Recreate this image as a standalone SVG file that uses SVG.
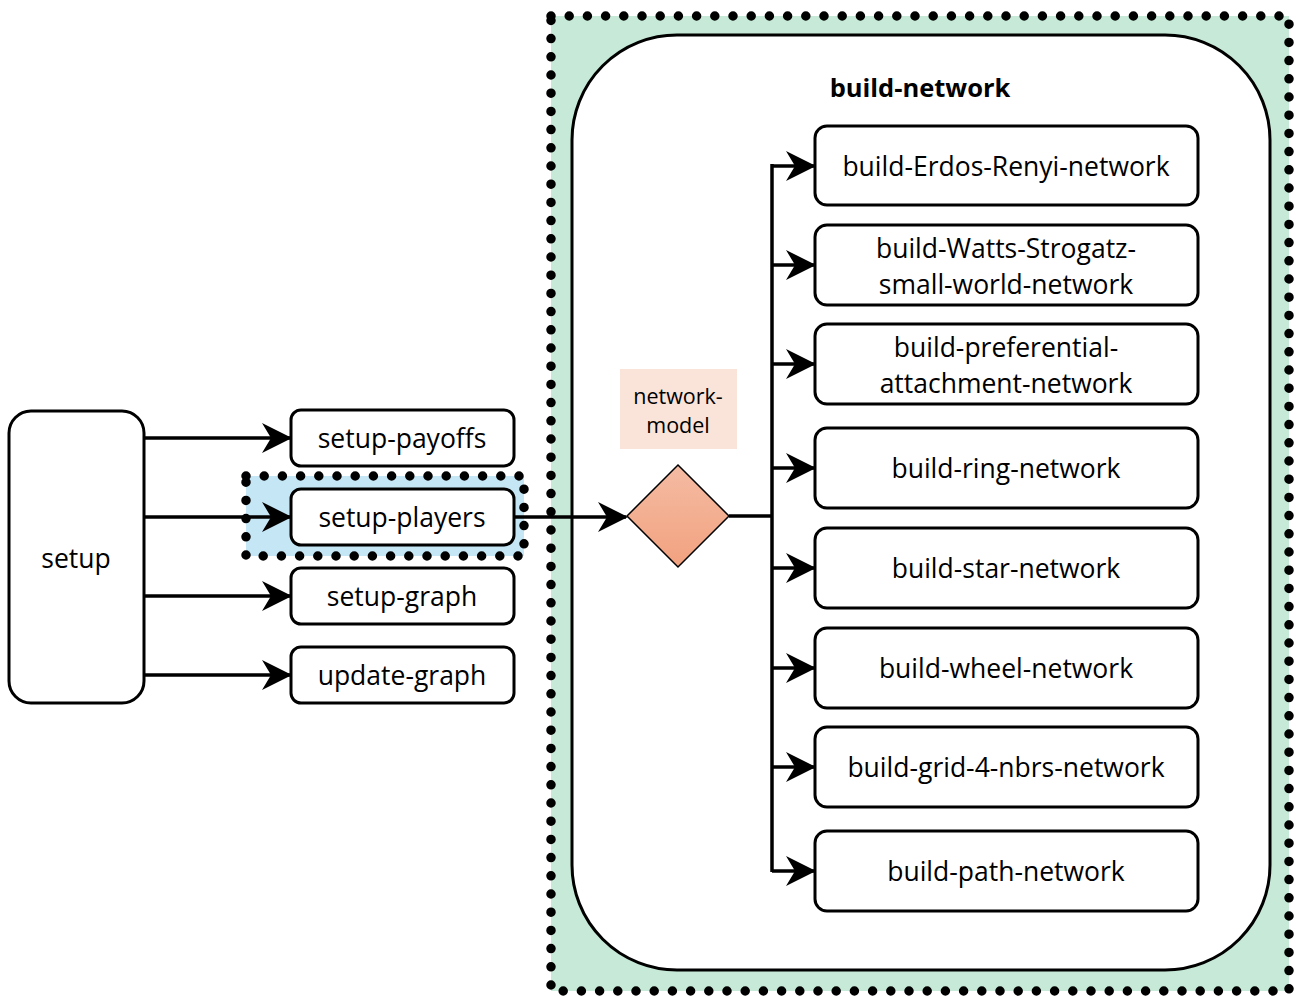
<svg xmlns="http://www.w3.org/2000/svg" width="1298" height="996" viewBox="0 0 1298 996">
<defs>
<linearGradient id="dg" x1="0" y1="0" x2="0" y2="1"><stop offset="0" stop-color="#f4bba3"/><stop offset="1" stop-color="#f2a27f"/></linearGradient>
<marker id="ah" viewBox="0 0 30 30" refX="28" refY="15" markerWidth="30" markerHeight="30" markerUnits="userSpaceOnUse" orient="auto"><path d="M0,0 L30,15 L0,30 L9,15 Z" fill="#000"/></marker>
<style>
.box{fill:#fff;stroke:#000;stroke-width:3}
.t{font-family:"Open Sans","DejaVu Sans",sans-serif;font-size:26.5px;fill:#000;text-anchor:middle;dominant-baseline:central}
.dot{fill:none;stroke:#000;stroke-width:9.5;stroke-linecap:round;stroke-dasharray:0 18.2}
.c{fill:none;stroke:#000;stroke-width:3.5}
</style>
</defs>
<g id="build-network-group">
<rect x="551" y="16" width="738" height="975" fill="#c6ead7"/>
<rect x="551" y="16" width="738" height="975" class="dot"/>
<rect x="572" y="35" width="698" height="935" rx="105" class="box"/>
<text x="920" y="87" class="t" style="font-weight:bold;font-size:25.5px">build-network</text>
</g>
<g id="players-group">
<rect x="246" y="476" width="278" height="80" fill="#c5e6f5"/>
<rect x="246" y="476" width="278" height="80" class="dot"/>
</g>
<g id="setup"><rect x="9" y="411" width="135" height="292" rx="22" class="box"/><text x="76" y="558" class="t">setup</text></g>
<g id="setup-payoffs"><rect x="291" y="410" width="223" height="56" rx="10" class="box"/><text x="402" y="438" class="t">setup-payoffs</text></g>
<g id="setup-players"><rect x="291" y="489" width="223" height="56" rx="10" class="box"/><text x="402" y="517" class="t">setup-players</text></g>
<g id="setup-graph"><rect x="291" y="568" width="223" height="56" rx="10" class="box"/><text x="402" y="596" class="t">setup-graph</text></g>
<g id="update-graph"><rect x="291" y="647" width="223" height="56" rx="10" class="box"/><text x="402" y="675" class="t">update-graph</text></g>
<g id="network-model-label"><rect x="620" y="369" width="117" height="80" fill="#fae3d9"/><text x="678" y="395" class="t" style="font-size:21.5px">network-</text><text x="678" y="424" class="t" style="font-size:21.5px">model</text></g>
<g id="decision"><polygon points="678,465 729,516 678,567 627,516" fill="url(#dg)" stroke="#000" stroke-width="1.5"/></g>
<g id="b1"><rect x="815" y="126" width="383" height="79" rx="12" class="box"/><text x="1006" y="166" class="t">build-Erdos-Renyi-network</text></g>
<g id="b2"><rect x="815" y="225" width="383" height="80" rx="12" class="box"/><text x="1006" y="248" class="t">build-Watts-Strogatz-</text><text x="1006" y="284" class="t">small-world-network</text></g>
<g id="b3"><rect x="815" y="324" width="383" height="80" rx="12" class="box"/><text x="1006" y="347" class="t">build-preferential-</text><text x="1006" y="383" class="t">attachment-network</text></g>
<g id="b4"><rect x="815" y="428" width="383" height="80" rx="12" class="box"/><text x="1006" y="468" class="t">build-ring-network</text></g>
<g id="b5"><rect x="815" y="528" width="383" height="80" rx="12" class="box"/><text x="1006" y="568" class="t">build-star-network</text></g>
<g id="b6"><rect x="815" y="628" width="383" height="80" rx="12" class="box"/><text x="1006" y="668" class="t">build-wheel-network</text></g>
<g id="b7"><rect x="815" y="727" width="383" height="80" rx="12" class="box"/><text x="1006" y="767" class="t">build-grid-4-nbrs-network</text></g>
<g id="b8"><rect x="815" y="831" width="383" height="80" rx="12" class="box"/><text x="1006" y="871" class="t">build-path-network</text></g>
<g id="connectors">
<path class="c" d="M144,438 H290" marker-end="url(#ah)"/>
<path class="c" d="M144,517 H290" marker-end="url(#ah)"/>
<path class="c" d="M144,596 H290" marker-end="url(#ah)"/>
<path class="c" d="M144,675 H290" marker-end="url(#ah)"/>
<path class="c" d="M514,517 H626" marker-end="url(#ah)"/>
<path class="c" d="M729,516 H772"/>
<path class="c" d="M772,164 V872"/>
<path class="c" d="M772,166 H814" marker-end="url(#ah)"/>
<path class="c" d="M772,265 H814" marker-end="url(#ah)"/>
<path class="c" d="M772,364 H814" marker-end="url(#ah)"/>
<path class="c" d="M772,468 H814" marker-end="url(#ah)"/>
<path class="c" d="M772,568 H814" marker-end="url(#ah)"/>
<path class="c" d="M772,668 H814" marker-end="url(#ah)"/>
<path class="c" d="M772,767 H814" marker-end="url(#ah)"/>
<path class="c" d="M772,871 H814" marker-end="url(#ah)"/>
</g>
</svg>
